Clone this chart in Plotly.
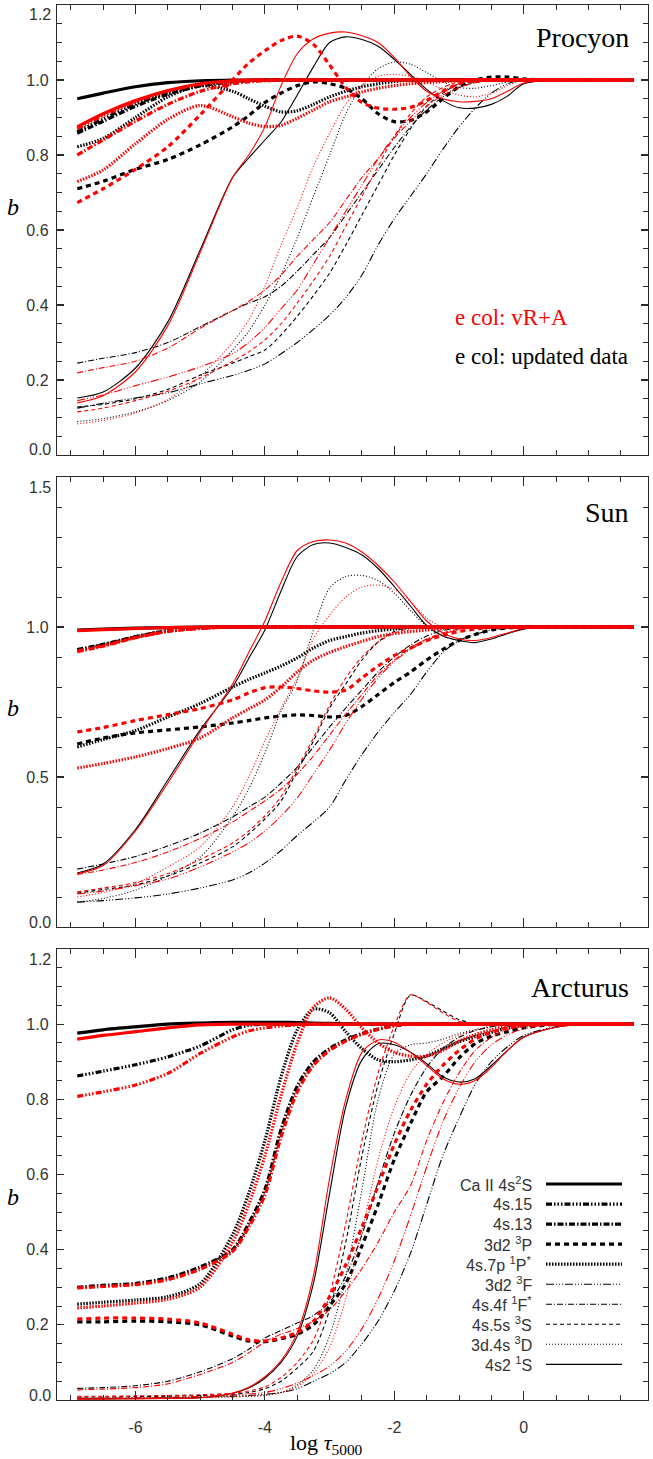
import plotly.graph_objects as go

W, H = 653, 1459

LOG_TAU = [-6.9, -6.5, -6.0, -5.5, -5.0, -4.5, -4.25, -4.0, -3.75, -3.5, -3.25, -3.0,
           -2.75, -2.5, -2.25, -2.0, -1.75, -1.5, -1.25, -1.0, -0.75, -0.5, -0.25,
           0.0, 0.5, 1.0, 1.7]

LEVELS = ["Ca II 4s<sup>2</sup>S", "4s.15", "4s.13", "3d2 <sup>3</sup>P",
          "4s.7p <sup>1</sup>P<sup>*</sup>", "3d2 <sup>3</sup>F",
          "4s.4f <sup>1</sup>F<sup>*</sup>", "4s.5s <sup>3</sup>S",
          "3d.4s <sup>3</sup>D", "4s2 <sup>1</sup>S"]

# ---------------- Procyon ----------------
PRO_CAII_UPD = [0.950, 0.965, 0.982, 0.993, 0.998, 1.0, 1.0, 1.0, 1.0, 1.0, 1.0, 1.0, 1.0, 1.0, 1.0, 1.0, 1.0, 1.0, 1.0, 1.0, 1.0, 1.0, 1.0, 1.0, 1.0, 1.0, 1.0]
PRO_CAII_VRA = [0.875, 0.910, 0.945, 0.972, 0.990, 0.998, 1.0, 1.0, 1.0, 1.0, 1.0, 1.0, 1.0, 1.0, 1.0, 1.0, 1.0, 1.0, 1.0, 1.0, 1.0, 1.0, 1.0, 1.0, 1.0, 1.0, 1.0]
PRO_415_UPD = [0.862, 0.896, 0.936, 0.966, 0.986, 0.996, 0.999, 1.0, 1.0, 1.0, 1.0, 1.0, 1.0, 1.0, 1.0, 1.0, 1.0, 1.0, 1.0, 1.0, 1.0, 1.0, 1.0, 1.0, 1.0, 1.0, 1.0]
PRO_415_VRA = [0.870, 0.905, 0.942, 0.970, 0.988, 0.997, 1.0, 1.0, 1.0, 1.0, 1.0, 1.0, 1.0, 1.0, 1.0, 1.0, 1.0, 1.0, 1.0, 1.0, 1.0, 1.0, 1.0, 1.0, 1.0, 1.0, 1.0]
PRO_413_UPD = [0.858, 0.890, 0.930, 0.962, 0.984, 0.995, 0.998, 1.0, 1.0, 1.0, 1.0, 1.0, 1.0, 1.0, 1.0, 1.0, 1.0, 1.0, 1.0, 1.0, 1.0, 1.0, 1.0, 1.0, 1.0, 1.0, 1.0]
PRO_413_VRA = [0.800, 0.840, 0.890, 0.935, 0.970, 0.990, 0.995, 0.998, 1.0, 1.0, 1.0, 1.0, 1.0, 1.0, 1.0, 1.0, 1.0, 1.0, 1.0, 1.0, 1.0, 1.0, 1.0, 1.0, 1.0, 1.0, 1.0]
PRO_3P_UPD = [0.710, 0.730, 0.762, 0.788, 0.827, 0.875, 0.905, 0.940, 0.965, 0.985, 0.995, 0.990, 0.978, 0.950, 0.910, 0.889, 0.892, 0.915, 0.950, 0.982, 1.000, 1.008, 1.008, 1.003, 1.0, 1.0, 1.0]
PRO_3P_VRA = [0.673, 0.710, 0.762, 0.822, 0.907, 1.000, 1.045, 1.078, 1.105, 1.117, 1.095, 1.040, 0.980, 0.940, 0.925, 0.922, 0.927, 0.945, 0.970, 0.990, 0.998, 1.0, 1.0, 1.0, 1.0, 1.0, 1.0]
PRO_7P_UPD = [0.822, 0.844, 0.900, 0.955, 0.985, 0.970, 0.950, 0.930, 0.915, 0.918, 0.935, 0.955, 0.970, 0.982, 0.990, 0.996, 1.0, 1.0, 1.0, 1.0, 1.0, 1.0, 1.0, 1.0, 1.0, 1.0, 1.0]
PRO_7P_VRA = [0.729, 0.760, 0.830, 0.895, 0.932, 0.902, 0.885, 0.876, 0.879, 0.898, 0.920, 0.942, 0.955, 0.968, 0.978, 0.985, 0.990, 0.993, 0.996, 0.998, 1.0, 1.0, 1.0, 1.0, 1.0, 1.0, 1.0]
PRO_3F_UPD = [0.125, 0.138, 0.152, 0.166, 0.190, 0.212, 0.226, 0.243, 0.270, 0.300, 0.335, 0.373, 0.420, 0.480, 0.560, 0.630, 0.690, 0.750, 0.815, 0.875, 0.925, 0.965, 0.990, 1.0, 1.0, 1.0, 1.0]
PRO_3F_VRA = [0.145, 0.160, 0.185, 0.208, 0.235, 0.270, 0.300, 0.340, 0.390, 0.440, 0.510, 0.580, 0.650, 0.720, 0.790, 0.850, 0.900, 0.940, 0.970, 0.990, 1.0, 1.0, 1.0, 1.0, 1.0, 1.0, 1.0]
PRO_1F_UPD = [0.245, 0.258, 0.273, 0.300, 0.342, 0.385, 0.405, 0.422, 0.450, 0.490, 0.535, 0.580, 0.640, 0.700, 0.760, 0.820, 0.875, 0.920, 0.955, 0.980, 0.993, 1.0, 1.0, 1.0, 1.0, 1.0, 1.0]
PRO_1F_VRA = [0.219, 0.233, 0.250, 0.285, 0.338, 0.385, 0.410, 0.440, 0.480, 0.530, 0.575, 0.620, 0.680, 0.740, 0.790, 0.845, 0.890, 0.930, 0.960, 0.980, 0.993, 1.0, 1.0, 1.0, 1.0, 1.0, 1.0]
PRO_3S_UPD = [0.128, 0.135, 0.150, 0.175, 0.213, 0.245, 0.262, 0.280, 0.320, 0.370, 0.425, 0.485, 0.560, 0.640, 0.720, 0.800, 0.870, 0.930, 0.965, 0.990, 1.0, 1.0, 1.0, 1.0, 1.0, 1.0, 1.0]
PRO_3S_VRA = [0.115, 0.125, 0.145, 0.170, 0.205, 0.250, 0.275, 0.307, 0.350, 0.405, 0.465, 0.530, 0.610, 0.690, 0.770, 0.850, 0.910, 0.955, 0.980, 0.995, 1.0, 1.0, 1.0, 1.0, 1.0, 1.0, 1.0]
PRO_3D_UPD = [0.089, 0.097, 0.115, 0.145, 0.195, 0.280, 0.330, 0.400, 0.480, 0.580, 0.690, 0.800, 0.910, 0.985, 1.030, 1.048, 1.042, 1.020, 0.995, 0.980, 0.978, 0.985, 0.995, 1.0, 1.0, 1.0, 1.0]
PRO_3D_VRA = [0.083, 0.092, 0.112, 0.148, 0.210, 0.300, 0.360, 0.450, 0.560, 0.660, 0.770, 0.858, 0.935, 0.985, 1.010, 1.015, 1.010, 0.995, 0.975, 0.960, 0.955, 0.965, 0.985, 1.0, 1.0, 1.0, 1.0]
PRO_1S_UPD = [0.152, 0.168, 0.232, 0.355, 0.547, 0.740, 0.792, 0.840, 0.888, 0.960, 1.035, 1.100, 1.115, 1.108, 1.090, 1.055, 1.015, 0.975, 0.945, 0.926, 0.925, 0.935, 0.957, 0.990, 1.0, 1.0, 1.0]
PRO_1S_VRA = [0.139, 0.158, 0.222, 0.345, 0.540, 0.740, 0.800, 0.875, 0.985, 1.070, 1.110, 1.125, 1.128, 1.118, 1.100, 1.060, 1.010, 0.970, 0.950, 0.942, 0.943, 0.950, 0.970, 0.992, 1.0, 1.0, 1.0]

# ---------------- Sun ----------------
SUN_CAII_UPD = [0.990, 0.993, 0.996, 0.998, 1.0, 1.0, 1.0, 1.0, 1.0, 1.0, 1.0, 1.0, 1.0, 1.0, 1.0, 1.0, 1.0, 1.0, 1.0, 1.0, 1.0, 1.0, 1.0, 1.0, 1.0, 1.0, 1.0]
SUN_CAII_VRA = [0.988, 0.991, 0.995, 0.998, 1.0, 1.0, 1.0, 1.0, 1.0, 1.0, 1.0, 1.0, 1.0, 1.0, 1.0, 1.0, 1.0, 1.0, 1.0, 1.0, 1.0, 1.0, 1.0, 1.0, 1.0, 1.0, 1.0]
SUN_415_UPD = [0.922, 0.940, 0.967, 0.987, 0.996, 1.0, 1.0, 1.0, 1.0, 1.0, 1.0, 1.0, 1.0, 1.0, 1.0, 1.0, 1.0, 1.0, 1.0, 1.0, 1.0, 1.0, 1.0, 1.0, 1.0, 1.0, 1.0]
SUN_415_VRA = [0.920, 0.938, 0.965, 0.986, 0.996, 1.0, 1.0, 1.0, 1.0, 1.0, 1.0, 1.0, 1.0, 1.0, 1.0, 1.0, 1.0, 1.0, 1.0, 1.0, 1.0, 1.0, 1.0, 1.0, 1.0, 1.0, 1.0]
SUN_413_UPD = [0.925, 0.942, 0.968, 0.988, 0.997, 1.0, 1.0, 1.0, 1.0, 1.0, 1.0, 1.0, 1.0, 1.0, 1.0, 1.0, 1.0, 1.0, 1.0, 1.0, 1.0, 1.0, 1.0, 1.0, 1.0, 1.0, 1.0]
SUN_413_VRA = [0.918, 0.936, 0.964, 0.985, 0.995, 1.0, 1.0, 1.0, 1.0, 1.0, 1.0, 1.0, 1.0, 1.0, 1.0, 1.0, 1.0, 1.0, 1.0, 1.0, 1.0, 1.0, 1.0, 1.0, 1.0, 1.0, 1.0]
SUN_3P_UPD = [0.610, 0.630, 0.647, 0.657, 0.667, 0.680, 0.688, 0.697, 0.703, 0.707, 0.705, 0.700, 0.705, 0.735, 0.775, 0.815, 0.850, 0.890, 0.925, 0.955, 0.975, 0.990, 0.997, 1.0, 1.0, 1.0, 1.0]
SUN_3P_VRA = [0.650, 0.665, 0.688, 0.708, 0.728, 0.757, 0.780, 0.798, 0.800, 0.795, 0.787, 0.783, 0.790, 0.830, 0.870, 0.905, 0.930, 0.955, 0.972, 0.985, 0.993, 1.0, 1.0, 1.0, 1.0, 1.0, 1.0]
SUN_7P_UPD = [0.600, 0.625, 0.655, 0.700, 0.745, 0.800, 0.825, 0.847, 0.870, 0.897, 0.930, 0.955, 0.968, 0.980, 0.988, 0.993, 0.998, 1.0, 1.0, 1.0, 1.0, 1.0, 1.0, 1.0, 1.0, 1.0, 1.0]
SUN_7P_VRA = [0.530, 0.545, 0.567, 0.595, 0.630, 0.697, 0.727, 0.757, 0.800, 0.850, 0.890, 0.915, 0.935, 0.952, 0.968, 0.978, 0.985, 0.990, 0.995, 1.0, 1.0, 1.0, 1.0, 1.0, 1.0, 1.0, 1.0]
SUN_3F_UPD = [0.083, 0.088, 0.097, 0.110, 0.130, 0.157, 0.180, 0.213, 0.255, 0.305, 0.350, 0.400, 0.490, 0.575, 0.650, 0.715, 0.775, 0.850, 0.915, 0.955, 0.975, 0.990, 0.997, 1.0, 1.0, 1.0, 1.0]
SUN_3F_VRA = [0.110, 0.120, 0.138, 0.160, 0.200, 0.250, 0.280, 0.320, 0.370, 0.430, 0.510, 0.590, 0.680, 0.760, 0.830, 0.885, 0.925, 0.955, 0.978, 0.990, 1.0, 1.0, 1.0, 1.0, 1.0, 1.0, 1.0]
SUN_1F_UPD = [0.193, 0.210, 0.235, 0.270, 0.313, 0.367, 0.400, 0.433, 0.480, 0.533, 0.600, 0.667, 0.730, 0.790, 0.850, 0.900, 0.940, 0.970, 0.988, 0.997, 1.0, 1.0, 1.0, 1.0, 1.0, 1.0, 1.0]
SUN_1F_VRA = [0.175, 0.190, 0.215, 0.250, 0.295, 0.350, 0.385, 0.420, 0.460, 0.510, 0.570, 0.640, 0.710, 0.775, 0.840, 0.890, 0.930, 0.960, 0.980, 0.993, 1.0, 1.0, 1.0, 1.0, 1.0, 1.0, 1.0]
SUN_3S_UPD = [0.113, 0.125, 0.140, 0.170, 0.213, 0.267, 0.310, 0.360, 0.420, 0.520, 0.620, 0.730, 0.810, 0.890, 0.950, 0.985, 1.0, 1.0, 1.0, 1.0, 1.0, 1.0, 1.0, 1.0, 1.0, 1.0, 1.0]
SUN_3S_VRA = [0.117, 0.130, 0.148, 0.178, 0.225, 0.280, 0.320, 0.370, 0.435, 0.530, 0.630, 0.740, 0.830, 0.900, 0.950, 0.980, 0.995, 1.0, 1.0, 1.0, 1.0, 1.0, 1.0, 1.0, 1.0, 1.0, 1.0]
SUN_3D_UPD = [0.083, 0.095, 0.123, 0.170, 0.233, 0.367, 0.460, 0.580, 0.720, 0.820, 0.990, 1.130, 1.168, 1.172, 1.155, 1.113, 1.055, 1.005, 1.0, 1.0, 1.0, 1.0, 1.0, 1.0, 1.0, 1.0, 1.0]
SUN_3D_VRA = [0.100, 0.115, 0.145, 0.200, 0.267, 0.400, 0.500, 0.620, 0.730, 0.830, 0.960, 1.040, 1.100, 1.133, 1.140, 1.125, 1.085, 1.030, 1.000, 1.0, 1.0, 1.0, 1.0, 1.0, 1.0, 1.0, 1.0]
SUN_1S_UPD = [0.180, 0.210, 0.325, 0.490, 0.657, 0.800, 0.895, 0.990, 1.120, 1.235, 1.275, 1.280, 1.265, 1.240, 1.195, 1.135, 1.070, 1.005, 0.970, 0.955, 0.948, 0.960, 0.978, 0.993, 1.0, 1.0, 1.0]
SUN_1S_VRA = [0.177, 0.205, 0.320, 0.480, 0.650, 0.810, 0.915, 1.020, 1.150, 1.255, 1.285, 1.290, 1.280, 1.250, 1.205, 1.150, 1.085, 1.020, 0.980, 0.960, 0.955, 0.965, 0.980, 0.995, 1.0, 1.0, 1.0]

# ---------------- Arcturus ----------------
ARC_CAII_UPD = [0.976, 0.985, 0.993, 1.000, 1.003, 1.005, 1.005, 1.005, 1.005, 1.004, 1.003, 1.002, 1.001, 1.0, 1.0, 1.0, 1.0, 1.0, 1.0, 1.0, 1.0, 1.0, 1.0, 1.0, 1.0, 1.0, 1.0]
ARC_CAII_VRA = [0.960, 0.970, 0.980, 0.990, 0.998, 1.0, 1.0, 1.0, 1.0, 1.0, 1.0, 1.0, 1.0, 1.0, 1.0, 1.0, 1.0, 1.0, 1.0, 1.0, 1.0, 1.0, 1.0, 1.0, 1.0, 1.0, 1.0]
ARC_415_UPD = [0.862, 0.875, 0.892, 0.913, 0.942, 0.985, 0.997, 1.0, 1.0, 1.0, 1.0, 1.0, 1.0, 1.0, 1.0, 1.0, 1.0, 1.0, 1.0, 1.0, 1.0, 1.0, 1.0, 1.0, 1.0, 1.0, 1.0]
ARC_415_VRA = [0.808, 0.820, 0.838, 0.869, 0.922, 0.966, 0.982, 0.990, 0.995, 0.998, 1.0, 1.0, 1.0, 1.0, 1.0, 1.0, 1.0, 1.0, 1.0, 1.0, 1.0, 1.0, 1.0, 1.0, 1.0, 1.0, 1.0]
ARC_413_UPD = [0.300, 0.305, 0.310, 0.325, 0.354, 0.400, 0.470, 0.560, 0.720, 0.835, 0.900, 0.935, 0.958, 0.975, 0.987, 0.996, 1.0, 1.0, 1.0, 1.0, 1.0, 1.0, 1.0, 1.0, 1.0, 1.0, 1.0]
ARC_413_VRA = [0.298, 0.302, 0.307, 0.320, 0.348, 0.395, 0.460, 0.545, 0.700, 0.820, 0.890, 0.930, 0.955, 0.973, 0.986, 0.995, 1.0, 1.0, 1.0, 1.0, 1.0, 1.0, 1.0, 1.0, 1.0, 1.0, 1.0]
ARC_3P_UPD = [0.208, 0.208, 0.210, 0.208, 0.200, 0.170, 0.157, 0.155, 0.163, 0.175, 0.200, 0.250, 0.310, 0.410, 0.520, 0.640, 0.735, 0.820, 0.860, 0.910, 0.948, 0.968, 0.980, 0.990, 1.0, 1.0, 1.0]
ARC_3P_VRA = [0.215, 0.218, 0.218, 0.215, 0.205, 0.175, 0.160, 0.157, 0.165, 0.180, 0.210, 0.275, 0.360, 0.460, 0.570, 0.680, 0.770, 0.840, 0.890, 0.930, 0.960, 0.978, 0.990, 0.996, 1.0, 1.0, 1.0]
ARC_7P_UPD = [0.255, 0.260, 0.266, 0.275, 0.310, 0.440, 0.550, 0.690, 0.860, 0.985, 1.040, 1.030, 0.980, 0.935, 0.905, 0.900, 0.905, 0.915, 0.935, 0.953, 0.967, 0.978, 0.990, 0.997, 1.0, 1.0, 1.0]
ARC_7P_VRA = [0.245, 0.250, 0.258, 0.268, 0.300, 0.420, 0.520, 0.650, 0.810, 0.950, 1.045, 1.070, 1.040, 0.990, 0.950, 0.925, 0.915, 0.915, 0.930, 0.955, 0.972, 0.985, 0.995, 1.0, 1.0, 1.0, 1.0]
ARC_3F_UPD = [0.004, 0.004, 0.005, 0.006, 0.008, 0.010, 0.012, 0.015, 0.020, 0.030, 0.050, 0.070, 0.100, 0.150, 0.210, 0.290, 0.390, 0.520, 0.650, 0.750, 0.840, 0.900, 0.940, 0.970, 0.993, 1.0, 1.0]
ARC_3F_VRA = [0.005, 0.005, 0.006, 0.007, 0.010, 0.013, 0.016, 0.020, 0.030, 0.045, 0.065, 0.090, 0.130, 0.190, 0.270, 0.370, 0.490, 0.620, 0.740, 0.830, 0.900, 0.945, 0.972, 0.988, 1.0, 1.0, 1.0]
ARC_1F_UPD = [0.031, 0.033, 0.038, 0.050, 0.075, 0.110, 0.135, 0.165, 0.185, 0.205, 0.225, 0.260, 0.330, 0.440, 0.580, 0.710, 0.810, 0.885, 0.935, 0.965, 0.983, 0.993, 1.0, 1.0, 1.0, 1.0, 1.0]
ARC_1F_VRA = [0.027, 0.029, 0.033, 0.043, 0.068, 0.100, 0.125, 0.155, 0.175, 0.190, 0.210, 0.240, 0.290, 0.350, 0.420, 0.500, 0.570, 0.690, 0.790, 0.870, 0.930, 0.965, 0.985, 0.995, 1.0, 1.0, 1.0]
ARC_3S_UPD = [0.008, 0.008, 0.009, 0.010, 0.012, 0.015, 0.020, 0.030, 0.050, 0.085, 0.130, 0.240, 0.420, 0.650, 0.840, 0.975, 1.077, 1.060, 1.035, 1.012, 1.002, 0.998, 0.998, 1.0, 1.0, 1.0, 1.0]
ARC_3S_VRA = [0.010, 0.010, 0.011, 0.012, 0.014, 0.018, 0.024, 0.035, 0.060, 0.100, 0.160, 0.280, 0.470, 0.690, 0.870, 0.995, 1.078, 1.058, 1.030, 1.008, 1.000, 0.998, 0.999, 1.0, 1.0, 1.0, 1.0]
ARC_3D_UPD = [0.005, 0.005, 0.006, 0.006, 0.007, 0.009, 0.010, 0.012, 0.020, 0.040, 0.080, 0.170, 0.330, 0.560, 0.800, 0.920, 0.945, 0.950, 0.960, 0.975, 0.985, 0.993, 1.0, 1.0, 1.0, 1.0, 1.0]
ARC_3D_VRA = [0.004, 0.004, 0.005, 0.005, 0.006, 0.008, 0.010, 0.013, 0.020, 0.035, 0.070, 0.140, 0.270, 0.450, 0.640, 0.780, 0.870, 0.920, 0.950, 0.970, 0.985, 0.995, 1.0, 1.0, 1.0, 1.0, 1.0]
ARC_1S_UPD = [0.003, 0.003, 0.004, 0.005, 0.006, 0.018, 0.032, 0.058, 0.100, 0.170, 0.310, 0.550, 0.780, 0.905, 0.948, 0.945, 0.925, 0.895, 0.860, 0.846, 0.855, 0.890, 0.930, 0.966, 0.992, 1.0, 1.0]
ARC_1S_VRA = [0.002, 0.002, 0.003, 0.004, 0.006, 0.018, 0.034, 0.062, 0.105, 0.180, 0.330, 0.590, 0.800, 0.925, 0.958, 0.952, 0.925, 0.890, 0.855, 0.840, 0.850, 0.885, 0.930, 0.965, 0.992, 1.0, 1.0]

PANELS = [
    ("Procyon",
     [PRO_CAII_UPD, PRO_415_UPD, PRO_413_UPD, PRO_3P_UPD, PRO_7P_UPD, PRO_3F_UPD, PRO_1F_UPD, PRO_3S_UPD, PRO_3D_UPD, PRO_1S_UPD],
     [PRO_CAII_VRA, PRO_415_VRA, PRO_413_VRA, PRO_3P_VRA, PRO_7P_VRA, PRO_3F_VRA, PRO_1F_VRA, PRO_3S_VRA, PRO_3D_VRA, PRO_1S_VRA]),
    ("Sun",
     [SUN_CAII_UPD, SUN_415_UPD, SUN_413_UPD, SUN_3P_UPD, SUN_7P_UPD, SUN_3F_UPD, SUN_1F_UPD, SUN_3S_UPD, SUN_3D_UPD, SUN_1S_UPD],
     [SUN_CAII_VRA, SUN_415_VRA, SUN_413_VRA, SUN_3P_VRA, SUN_7P_VRA, SUN_3F_VRA, SUN_1F_VRA, SUN_3S_VRA, SUN_3D_VRA, SUN_1S_VRA]),
    ("Arcturus",
     [ARC_CAII_UPD, ARC_415_UPD, ARC_413_UPD, ARC_3P_UPD, ARC_7P_UPD, ARC_3F_UPD, ARC_1F_UPD, ARC_3S_UPD, ARC_3D_UPD, ARC_1S_UPD],
     [ARC_CAII_VRA, ARC_415_VRA, ARC_413_VRA, ARC_3P_VRA, ARC_7P_VRA, ARC_3F_VRA, ARC_1F_VRA, ARC_3S_VRA, ARC_3D_VRA, ARC_1S_VRA]),
]

for name, upd, vra in PANELS:
    for arr in upd + vra:
        if len(arr) != len(LOG_TAU):
            raise ValueError(f"length mismatch in {name}: {len(arr)}")

# ---------------- styles ----------------
WIDTHS = [3.2, 3.2, 3.2, 3.2, 3.2, 1.1, 1.1, 1.1, 1.1, 1.1]
DASHES = ["solid", "6px,2px,1.5px,2px,1.5px,2px,1.5px,2px", "6px,2px,1.5px,2px", "5px,4px",
          "1.5px,1.5px", "8px,2px,1px,2px,1px,2px,1px,2px", "6px,2px,1px,2px", "4px,3px",
          "1px,2px", "solid"]
COLOR_UPD = "#000000"
COLOR_VRA = "#ff0000"

SERIF = "Liberation Serif, Times New Roman, serif"
SANS = "Liberation Sans, Arial, Helvetica, sans-serif"
AXC = "#2a2a2a"
TXT = "#333333"

# pixel geometry
X_L, X_R = 57, 648
PANEL_PX = [(5, 455), (477, 927), (949, 1400)]
Y_RANGES = [(0.0, 1.2), (0.0, 1.5), (0.0, 1.2)]
Y_MAJOR = [0.2, 0.5, 0.2]
Y_MINOR = [0.05, 0.1, 0.05]
X_RANGE = [-7.213, 1.921]
X_TICKS = [-6, -4, -2, 0]


def px_x(px):
    return px / W


def px_y(py):
    return 1 - py / H


fig = go.Figure()

for i, (name, upd, vra) in enumerate(PANELS):
    xa = "x" if i == 0 else f"x{i+1}"
    ya = "y" if i == 0 else f"y{i+1}"
    for series, col in ((upd, COLOR_UPD), (vra, COLOR_VRA)):
        for k, vals in enumerate(series):
            fig.add_trace(go.Scatter(
                x=LOG_TAU, y=vals, mode="lines", xaxis=xa, yaxis=ya,
                line=dict(color=col, width=WIDTHS[k], dash=DASHES[k], shape="spline", smoothing=0.8),
                showlegend=False, hoverinfo="skip"))

annotations = []
layout_axes = {}
for i in range(3):
    top, bot = PANEL_PX[i]
    lo, hi = Y_RANGES[i]
    xkey = "xaxis" if i == 0 else f"xaxis{i+1}"
    ykey = "yaxis" if i == 0 else f"yaxis{i+1}"
    ya = "y" if i == 0 else f"y{i+1}"
    xa = "x" if i == 0 else f"x{i+1}"
    layout_axes[xkey] = dict(
        domain=[px_x(X_L), px_x(X_R)], range=X_RANGE, anchor=ya,
        showline=True, linecolor=AXC, linewidth=1.2, mirror="ticks",
        ticks="inside", ticklen=9, tickwidth=1.2, tickcolor=AXC,
        tickmode="array", tickvals=X_TICKS, ticktext=[str(t) for t in X_TICKS],
        showticklabels=(i == 2), ticklabelstandoff=13,
        tickfont=dict(family=SANS, size=16, color=TXT),
        minor=dict(ticks="inside", ticklen=5, tickwidth=1, tickcolor=AXC, tick0=0, dtick=0.5),
        showgrid=False, zeroline=False)
    nmaj = int(round((hi - lo) / Y_MAJOR[i]))
    yt = [round(lo + j * Y_MAJOR[i], 3) for j in range(1, nmaj)]
    layout_axes[ykey] = dict(
        domain=[px_y(bot), px_y(top)], range=[lo, hi], anchor=xa,
        showline=True, linecolor=AXC, linewidth=1.2, mirror="ticks",
        ticks="inside", ticklen=7, tickwidth=1.2, tickcolor=AXC,
        tickmode="array", tickvals=yt, ticktext=[f"{v:.1f}" for v in yt], ticklabelstandoff=4,
        tickfont=dict(family=SANS, size=16, color=TXT),
        minor=dict(ticks="inside", ticklen=5, tickwidth=1, tickcolor=AXC, tick0=0, dtick=Y_MINOR[i]),
        showgrid=False, zeroline=False)
    # end labels shifted inward like the original
    annotations.append(dict(xref="paper", yref=ya, x=px_x(X_L), y=lo, text=f"{lo:.1f}",
                            xanchor="right", yanchor="middle", xshift=-4, yshift=5, showarrow=False,
                            font=dict(family=SANS, size=16, color=TXT)))
    annotations.append(dict(xref="paper", yref=ya, x=px_x(X_L), y=hi, text=f"{hi:.1f}",
                            xanchor="right", yanchor="middle", xshift=-4, yshift=-10, showarrow=False,
                            font=dict(family=SANS, size=16, color=TXT)))

# panel titles
TITLE_POS = [37, 512, 987]
for (name, _, _), cy in zip(PANELS, TITLE_POS):
    annotations.append(dict(xref="paper", yref="paper", x=px_x(631), y=px_y(cy), text=name,
                            xanchor="right", yanchor="middle", showarrow=False,
                            font=dict(family=SERIF, size=28, color="#000000")))

# y-axis "b" labels
for cy in [207, 708, 1197]:
    annotations.append(dict(xref="paper", yref="paper", x=px_x(13), y=px_y(cy), text="<i>b</i>",
                            xanchor="center", yanchor="middle", showarrow=False,
                            font=dict(family=SERIF, size=24, color="#000000")))

# x-axis title
annotations.append(dict(xref="paper", yref="paper", x=px_x(326), y=px_y(1444),
                        text="log <i>τ</i><sub>5000</sub>", xanchor="center", yanchor="middle",
                        showarrow=False, font=dict(family=SERIF, size=22, color="#000000")))

# source notes in Procyon panel
annotations.append(dict(xref="paper", yref="paper", x=px_x(453), y=px_y(317), text="e col: vR+A",
                        xanchor="left", yanchor="middle", showarrow=False,
                        font=dict(family=SERIF, size=23, color=COLOR_VRA)))
annotations.append(dict(xref="paper", yref="paper", x=px_x(453), y=px_y(356), text="e col: updated data",
                        xanchor="left", yanchor="middle", showarrow=False,
                        font=dict(family=SERIF, size=23, color=COLOR_UPD)))

# legend (text left, line sample right) in Arcturus panel
shapes = []
LEG_Y0, LEG_DY = 1184, 20.04
for k, lab in enumerate(LEVELS):
    cy = LEG_Y0 + k * LEG_DY
    annotations.append(dict(xref="paper", yref="paper", x=px_x(534), y=px_y(cy), text=lab,
                            xanchor="right", yanchor="middle", showarrow=False,
                            font=dict(family=SANS, size=16, color=TXT)))
    shapes.append(dict(type="line", xref="paper", yref="paper",
                       x0=px_x(546), x1=px_x(622), y0=px_y(cy), y1=px_y(cy),
                       line=dict(color="#000000", width=WIDTHS[k], dash=DASHES[k])))

fig.update_layout(
    width=W, height=H, margin=dict(l=0, r=0, t=0, b=0),
    paper_bgcolor="white", plot_bgcolor="white",
    showlegend=False, annotations=annotations, shapes=shapes,
    **layout_axes)

fig.write_html("out.html", config={"displayModeBar": False, "staticPlot": True},
               post_script="document.body.style.margin='0';")
